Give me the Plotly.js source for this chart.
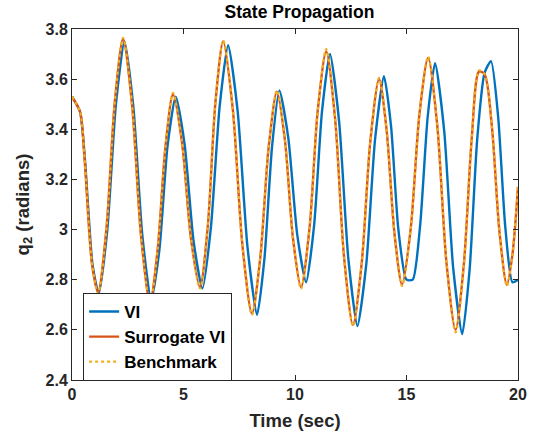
<!DOCTYPE html>
<html>
<head>
<meta charset="utf-8">
<script src="https://cdn.plot.ly/plotly-3.0.1.min.js"></script>
<style>html,body{margin:0;padding:0;background:#fff;}#chart{width:537px;height:441px;}</style>
</head>
<body>
<div id="chart"></div>
<script>
// Time (sec) and q2 (radians)
const viTime = [0, 0.36, 0.58, 0.92, 1.2, 1.58, 1.97, 2.35, 2.75, 3.15, 3.55, 3.92, 4.28, 4.65, 5.05, 5.45, 5.85, 6.23, 6.62, 7.0, 7.43, 7.87, 8.3, 8.63, 8.97, 9.3, 9.7, 10.1, 10.5, 10.86, 11.21, 11.57, 11.98, 12.39, 12.8, 13.2, 13.59, 13.99, 14.31, 14.63, 15.0, 15.28, 15.61, 15.95, 16.28, 16.69, 17.09, 17.5, 17.83, 18.17, 18.5, 18.79, 19.11, 19.43, 19.75, 20.0];
const viVals = [3.53, 3.47, 3.28, 2.86, 2.745, 2.995, 3.50, 3.75, 3.49, 2.98, 2.72, 2.92, 3.33, 3.53, 3.34, 2.955, 2.765, 3.01, 3.49, 3.735, 3.47, 2.93, 2.66, 2.885, 3.33, 3.555, 3.365, 2.98, 2.79, 3.02, 3.47, 3.70, 3.43, 2.885, 2.615, 2.865, 3.36, 3.612, 3.41, 3.005, 2.80, 2.80, 3.015, 3.45, 3.664, 3.394, 2.85, 2.583, 2.84, 3.36, 3.625, 3.672, 3.45, 3.01, 2.79, 2.80];

const surTime = [0, 0.36, 0.55, 0.9, 1.17, 1.54, 1.92, 2.29, 2.69, 3.10, 3.5, 3.84, 4.19, 4.53, 4.93, 5.34, 5.74, 6.09, 6.43, 6.78, 7.21, 7.64, 8.07, 8.44, 8.82, 9.19, 9.55, 9.91, 10.27, 10.65, 11.02, 11.4, 11.8, 12.2, 12.6, 12.99, 13.38, 13.77, 14.11, 14.46, 14.8, 15.19, 15.58, 15.97, 16.38, 16.79, 17.2, 17.57, 17.93, 18.25, 18.5, 18.83, 19.17, 19.5, 19.75, 20.0];
const surVals = [3.53, 3.47, 3.30, 2.86, 2.75, 3.00, 3.51, 3.76, 3.50, 2.97, 2.71, 2.92, 3.33, 3.54, 3.35, 2.96, 2.77, 3.015, 3.505, 3.75, 3.48, 2.94, 2.665, 2.885, 3.33, 3.55, 3.355, 2.965, 2.77, 3.005, 3.475, 3.71, 3.44, 2.89, 2.62, 2.865, 3.355, 3.60, 3.395, 2.985, 2.78, 3.005, 3.46, 3.685, 3.415, 2.87, 2.60, 2.86, 3.37, 3.63, 3.62, 3.41, 2.99, 2.78, 2.90, 3.17];

const benchTime = [0, 0.36, 0.55, 0.9, 1.17, 1.54, 1.92, 2.29, 2.69, 3.10, 3.5, 3.84, 4.19, 4.53, 4.93, 5.34, 5.74, 6.09, 6.43, 6.78, 7.21, 7.64, 8.07, 8.44, 8.82, 9.19, 9.55, 9.91, 10.27, 10.65, 11.02, 11.4, 11.8, 12.2, 12.6, 12.99, 13.38, 13.77, 14.11, 14.46, 14.8, 15.19, 15.58, 15.97, 16.38, 16.79, 17.2, 17.57, 17.93, 18.25, 18.5, 18.83, 19.17, 19.5, 19.75, 20.0];
const benchVals = [3.53, 3.47, 3.30, 2.86, 2.745, 3.00, 3.51, 3.765, 3.50, 2.97, 2.705, 2.92, 3.33, 3.545, 3.35, 2.96, 2.765, 3.015, 3.505, 3.755, 3.48, 2.94, 2.66, 2.885, 3.33, 3.555, 3.355, 2.965, 2.765, 3.005, 3.475, 3.72, 3.44, 2.89, 2.615, 2.865, 3.355, 3.605, 3.395, 2.985, 2.775, 3.005, 3.46, 3.69, 3.415, 2.87, 2.59, 2.86, 3.37, 3.635, 3.62, 3.41, 2.99, 2.775, 2.90, 3.18];

const xTicks = [0, 5, 10, 15, 20];
const yTicks = [2.4, 2.6, 2.8, 3.0, 3.2, 3.4, 3.6, 3.8];
const yTickLabels = ['2.4', '2.6', '2.8', '3', '3.2', '3.4', '3.6', '3.8'];

const FONT = 'Liberation Sans, Arial, Helvetica, sans-serif';

const traces = [
  {x: viTime, y: viVals, name: 'VI', type: 'scatter', mode: 'lines',
   line: {color: '#0072BD', width: 2.4, shape: 'spline', smoothing: 0.6}},
  {x: surTime, y: surVals, name: 'Surrogate VI', type: 'scatter', mode: 'lines',
   line: {color: '#D95319', width: 2.4, shape: 'spline', smoothing: 0.8}},
  {x: benchTime, y: benchVals, name: 'Benchmark', type: 'scatter', mode: 'lines',
   line: {color: '#EDB120', width: 2.2, dash: 'dot', shape: 'spline', smoothing: 0.8}}
];

const axisCommon = {
  showgrid: false, zeroline: false, showline: true, linecolor: '#262626', linewidth: 1,
  mirror: 'ticks', ticks: 'inside', ticklen: 5, tickcolor: '#262626', tickwidth: 1,
  tickfont: {family: FONT, size: 16, color: '#262626', weight: 'bold'}
};

const layout = {
  width: 537, height: 441,
  margin: {l: 72, r: 19, t: 29, b: 61},
  paper_bgcolor: '#ffffff', plot_bgcolor: '#ffffff',
  font: {family: FONT, color: '#262626'},
  title: {text: '<b>State Propagation</b>', font: {family: FONT, size: 17.5, color: '#000'},
          xref: 'paper', x: 0.51, xanchor: 'center', yref: 'container', y: 0.972, yanchor: 'middle'},
  xaxis: Object.assign({}, axisCommon, {
    range: [0, 20], tickvals: xTicks, ticktext: xTicks.map(String),
    title: {text: '<b>Time (sec)</b>', font: {family: FONT, size: 18.5, color: '#262626'}, standoff: 11}
  }),
  yaxis: Object.assign({}, axisCommon, {
    range: [2.4, 3.8], tickvals: yTicks, ticktext: yTickLabels,
    title: {text: '<b>q<sub>2</sub> (radians)</b>', font: {family: FONT, size: 18.5, color: '#262626'}, standoff: 11}
  }),
  showlegend: true,
  legend: {x: 0.025, y: 0.248, xanchor: 'left', yanchor: 'top',
           bgcolor: '#ffffff', bordercolor: '#262626', borderwidth: 1,
           font: {family: FONT, size: 17, color: '#000', weight: 'bold'},
           tracegroupgap: 0}
};

Plotly.newPlot('chart', traces, layout, {displayModeBar: false, staticPlot: true});
</script>
</body>
</html>
